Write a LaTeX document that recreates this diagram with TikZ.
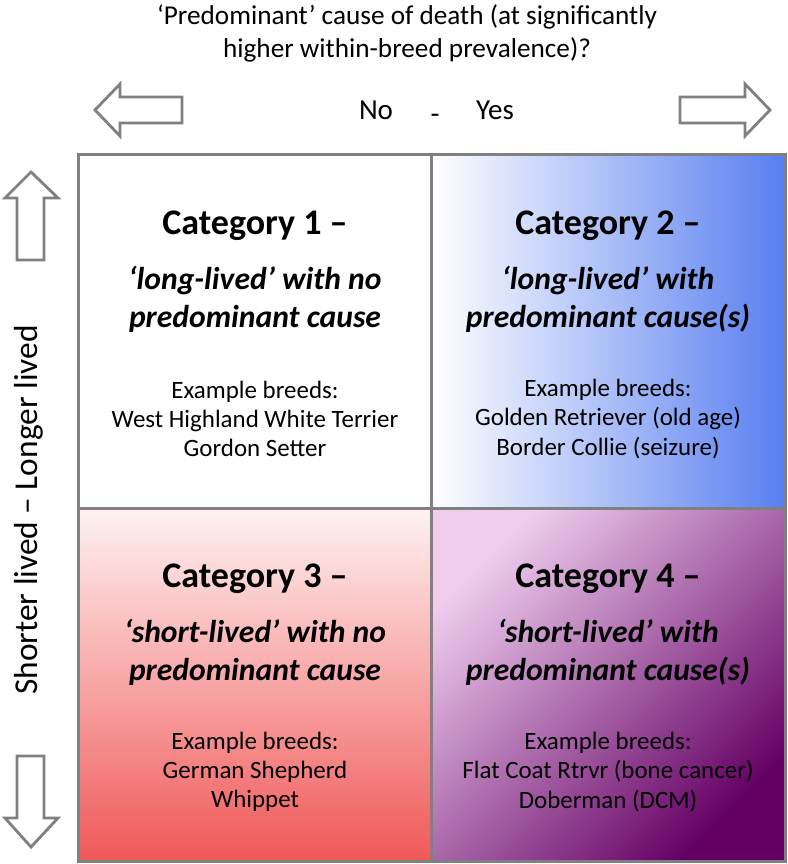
\documentclass[tikz,border=0pt]{standalone}
\usepackage{fontspec}
\setmainfont{Carlito}
\usetikzlibrary{positioning}
\definecolor{edgegray}{RGB}{128,128,128}
\definecolor{catblue}{RGB}{88,126,240}
\definecolor{catred}{RGB}{240,88,88}
\definecolor{catpink}{RGB}{255,242,242}
\definecolor{catlilac}{RGB}{238,205,238}
\definecolor{catpurple}{RGB}{100,0,100}
\tikzset{cell/.style = {draw=edgegray, line width=1.6pt,
                        minimum width=7.07cm, minimum height=7.07cm,
                        inner sep=0pt},
         blockarrow/.style = {draw=edgegray, line width=1.6pt, fill=white,
                              line join=miter},
         heading/.style = {font=\fontsize{20.5}{24}\selectfont\bfseries},
         subhead/.style = {font=\fontsize{18}{21.5}\selectfont\bfseries\itshape,
                           align=center},
         breeds/.style = {font=\fontsize{14.2}{16.6}\selectfont, align=center},
         plain/.style = {font=\fontsize{15.5}{18.7}\selectfont, align=center}}

\begin{document}
\begin{tikzpicture}[x=0.02cm, y=-0.02cm]
    \useasboundingbox (0, 0) rectangle (787, 864);

    \node [cell] (c1) at (255, 331.5) {};
    \node [cell, left color=white, right color=catblue] (c2) at (608.5, 331.5) {};
    \node [cell, top color=catpink, bottom color=catred] (c3) at (255, 685) {};
    \node [cell, top color=catlilac, bottom color=catpurple, shading angle=45] (c4) at (608.5, 685) {};

    \draw [blockarrow] (95, 110) -- (120, 84) -- (120, 97) -- (182, 97)
      -- (182, 123) -- (120, 123) -- (120, 136) -- cycle;
    \draw [blockarrow] (770, 110) -- (745, 84) -- (745, 97) -- (680, 97)
      -- (680, 123) -- (745, 123) -- (745, 136) -- cycle;
    \draw [blockarrow] (31, 172) -- (5, 198) -- (17, 198) -- (17, 260)
      -- (44, 260) -- (44, 198) -- (58, 198) -- cycle;
    \draw [blockarrow] (31, 847) -- (5, 818) -- (17, 818) -- (17, 756)
      -- (44, 756) -- (44, 818) -- (58, 818) -- cycle;

    \node [plain] (title) at (407, 33) {‘Predominant’ cause of death (at significantly\\higher within-breed prevalence)?};
    \node [plain, font=\fontsize{16.5}{19}\selectfont] (no) at (376, 110) {No};
    \node [plain, font=\fontsize{16.5}{19}\selectfont] (dash) at (435, 119) {-};
    \node [plain, font=\fontsize{16.5}{19}\selectfont] (yes) at (495, 110) {Yes};
    \node [plain, font=\fontsize{19}{22}\selectfont, rotate=90] (axis) at (29, 510) {Shorter lived – Longer lived};

    \node [heading] (h1) at (255, 226) {Category 1 –};
    \node [subhead] (s1) at (255, 299) {‘long-lived’ with no\\predominant cause};
    \node [breeds] (b1) at (255, 419) {Example breeds:\\West Highland White Terrier\\Gordon Setter};

    \node [heading] (h2) at (608, 226) {Category 2 –};
    \node [subhead] (s2) at (608, 299) {‘long-lived’ with\\predominant cause(s)};
    \node [breeds] (b2) at (608, 419) {Example breeds:\\Golden Retriever (old age)\\Border Collie (seizure)};

    \node [heading] (h3) at (255, 579) {Category 3 –};
    \node [subhead] (s3) at (255, 652) {‘short-lived’ with no\\predominant cause};
    \node [breeds] (b3) at (255, 772) {Example breeds:\\German Shepherd\\Whippet};

    \node [heading] (h4) at (608, 579) {Category 4 –};
    \node [subhead] (s4) at (608, 652) {‘short-lived’ with\\predominant cause(s)};
    \node [breeds] (b4) at (608, 772) {Example breeds:\\Flat Coat Rtrvr (bone cancer)\\Doberman (DCM)};
\end{tikzpicture}
\end{document}
